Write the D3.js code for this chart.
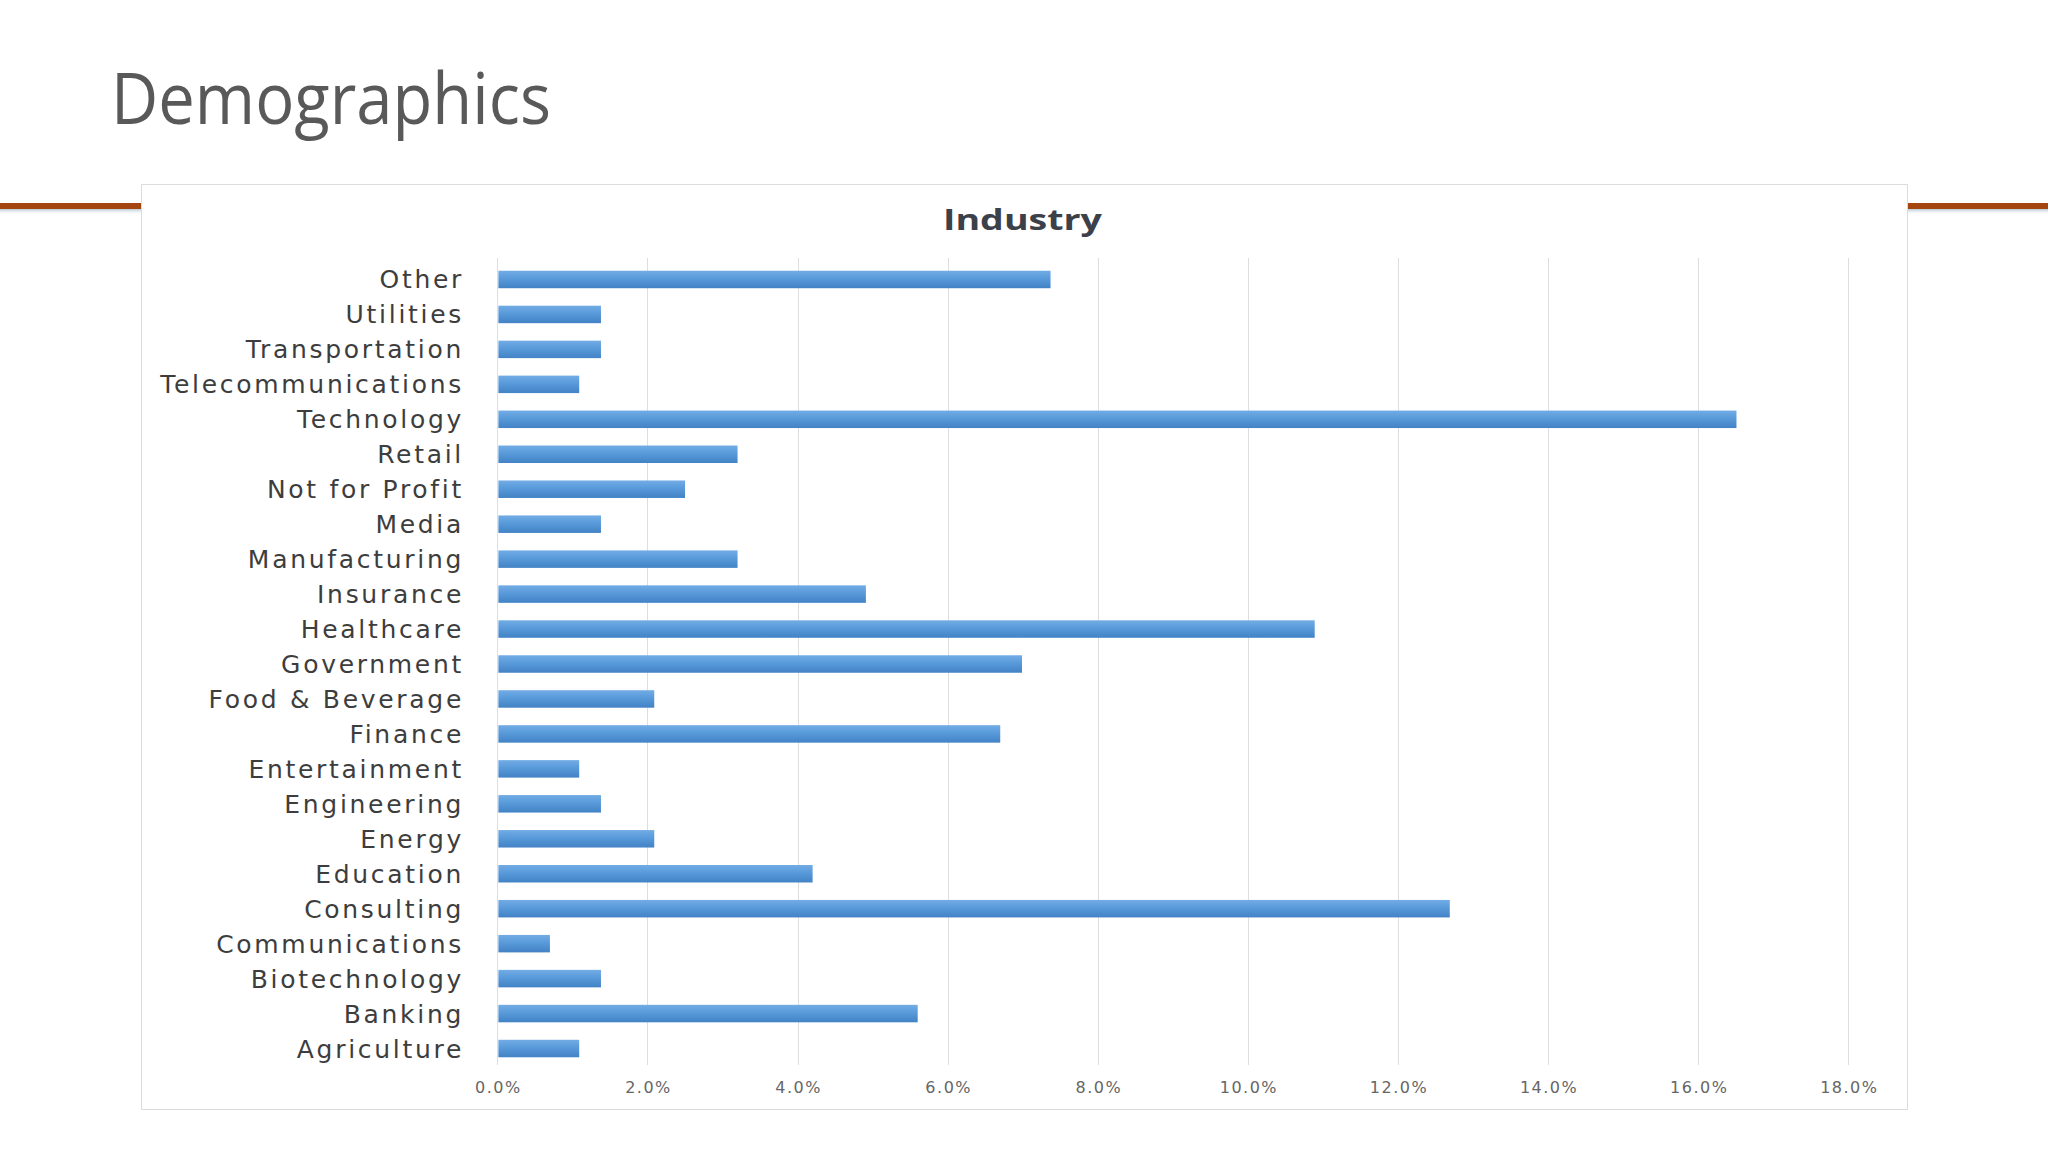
<!DOCTYPE html>
<html>
<head>
<meta charset="utf-8">
<script src="https://cdn.jsdelivr.net/npm/d3@7"></script>
<style>
    body { margin: 0; background: #ffffff; }
    .slide-title { font-family: "Open Sans", sans-serif; font-weight: 400; fill: #595959; }
    .chart-title { font-family: "Open Sans", sans-serif; font-weight: 700; fill: #3c4049; }
    .cat-label { font-family: "DejaVu Sans", sans-serif; fill: #3d3d3d; }
    .tick-label { font-family: "DejaVu Sans", sans-serif; fill: #666666; }
    .grid line { stroke: #dedede; stroke-width: 1; }
</style>
</head>
<body>
<div id="slide"></div>
<script>
// categories, top to bottom as in the chart
var industries = ["Other", "Utilities", "Transportation", "Telecommunications", "Technology",
    "Retail", "Not for Profit", "Media", "Manufacturing", "Insurance", "Healthcare",
    "Government", "Food & Beverage", "Finance", "Entertainment", "Engineering", "Energy",
    "Education", "Consulting", "Communications", "Biotechnology", "Banking", "Agriculture"];

// share of respondents, percent
var shares = [7.37, 1.38, 1.38, 1.09, 16.51,
    3.20, 2.50, 1.38, 3.20, 4.91, 10.89,
    6.99, 2.09, 6.70, 1.09, 1.38, 2.09,
    4.20, 12.69, 0.70, 1.38, 5.60, 1.09];

var xTicks = [0, 2, 4, 6, 8, 10, 12, 14, 16, 18];

var slideTitle = "Demographics",
    chartTitle = "Industry";

function drawSlide(container) {
    var width = 2048,
        height = 1152,
        panel = { left: 141, top: 184, right: 1907, bottom: 1109 },
        plot = { left: 497.4, right: 1848.3, top: 262, bottom: 1066 };

    var svg = d3.select(container).append("svg")
        .attr("width", width)
        .attr("height", height);

    var defs = svg.append("defs");

    // bar fill: Excel style vertical gradient
    var barGrad = defs.append("linearGradient")
        .attr("id", "barGrad")
        .attr("x1", 0).attr("y1", 0).attr("x2", 0).attr("y2", 1);
    barGrad.append("stop").attr("offset", "0%").attr("stop-color", "#72ace5");
    barGrad.append("stop").attr("offset", "45%").attr("stop-color", "#589ada");
    barGrad.append("stop").attr("offset", "100%").attr("stop-color", "#4282c5");

    var shadowGrad = defs.append("linearGradient")
        .attr("id", "shadowGrad")
        .attr("x1", 0).attr("y1", 0).attr("x2", 0).attr("y2", 1);
    shadowGrad.append("stop").attr("offset", "0%").attr("stop-color", "#b9c9d3");
    shadowGrad.append("stop").attr("offset", "100%").attr("stop-color", "#ffffff").attr("stop-opacity", 0);

    // slide title
    svg.append("text")
        .attr("class", "slide-title")
        .attr("x", 111)
        .attr("y", 124)
        .attr("textLength", 440)
        .attr("lengthAdjust", "spacingAndGlyphs")
        .style("font-size", "71px")
        .text(slideTitle);

    // orange rule behind the chart panel
    svg.append("rect")
        .attr("x", 0).attr("y", 209)
        .attr("width", width).attr("height", 6)
        .style("fill", "url(#shadowGrad)");
    svg.append("rect")
        .attr("x", 0).attr("y", 203)
        .attr("width", width).attr("height", 6)
        .style("fill", "#a4440e");

    // chart panel
    svg.append("rect")
        .attr("x", panel.left + 0.5)
        .attr("y", panel.top + 0.5)
        .attr("width", panel.right - panel.left)
        .attr("height", panel.bottom - panel.top)
        .style("fill", "#ffffff")
        .style("stroke", "#dcdcdc")
        .style("stroke-width", 1);

    svg.append("text")
        .attr("class", "chart-title")
        .attr("x", 943)
        .attr("y", 230)
        .attr("textLength", 159)
        .attr("lengthAdjust", "spacingAndGlyphs")
        .style("font-size", "29px")
        .text(chartTitle);

    var x = d3.scaleLinear()
        .domain([0, 18])
        .range([plot.left, plot.right]);

    var y = d3.scaleBand()
        .domain(industries)
        .range([plot.top, plot.bottom])
        .paddingInner(0.5)
        .paddingOuter(0.25);

    // vertical gridlines
    svg.append("g")
        .attr("class", "grid")
        .selectAll("line")
        .data(xTicks)
        .enter().append("line")
        .attr("x1", function(d) { return Math.round(x(d)) + 0.5; })
        .attr("x2", function(d) { return Math.round(x(d)) + 0.5; })
        .attr("y1", 258)
        .attr("y2", 1065);

    // bars
    svg.append("g")
        .selectAll("rect")
        .data(shares)
        .enter().append("rect")
        .attr("x", x(0) + 1)
        .attr("y", function(d, i) { return y(industries[i]); })
        .attr("width", function(d) { return x(d) - x(0) - 1; })
        .attr("height", y.bandwidth())
        .style("fill", "url(#barGrad)");

    // category labels (trailing letter-spacing compensated)
    svg.append("g")
        .selectAll("text")
        .data(industries)
        .enter().append("text")
        .attr("class", "cat-label")
        .attr("x", 464)
        .attr("y", function(d) { return y(d) + y.bandwidth() / 2; })
        .attr("dy", "0.36em")
        .attr("text-anchor", "end")
        .style("font-size", "25px")
        .style("letter-spacing", "2.7px")
        .text(function(d) { return d; });

    // x tick labels
    var fmt = d3.format(".1f");
    svg.append("g")
        .selectAll("text")
        .data(xTicks)
        .enter().append("text")
        .attr("class", "tick-label")
        .attr("x", function(d) { return x(d) + 1; })
        .attr("y", 1093)
        .attr("text-anchor", "middle")
        .style("font-size", "16px")
        .style("letter-spacing", "1.5px")
        .text(function(d) { return fmt(d) + "%"; });
}

drawSlide("#slide");
</script>
</body>
</html>
